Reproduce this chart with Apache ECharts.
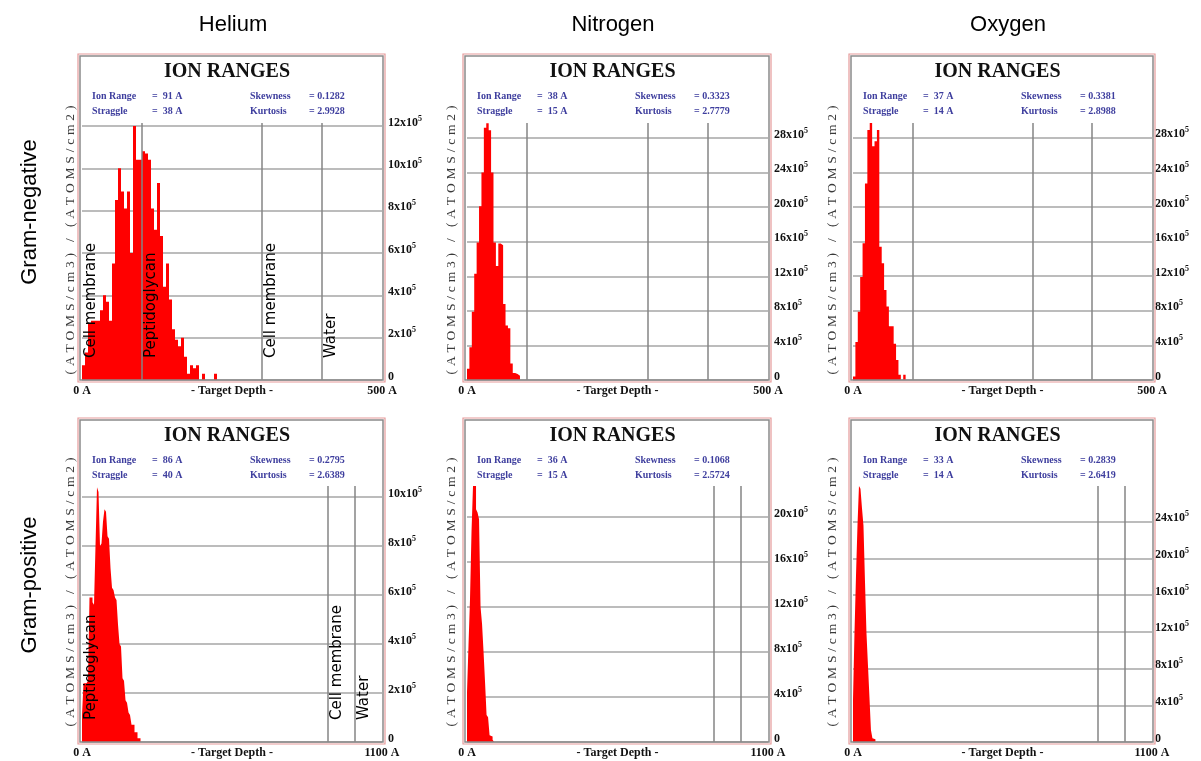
<!DOCTYPE html>
<html>
<head>
<meta charset="utf-8">
<title>Ion ranges</title>
<script src="https://cdn.jsdelivr.net/npm/echarts@6/dist/echarts.min.js"></script>
<style>
  html, body { margin: 0; padding: 0; background: #fff; }
  #chart { width: 1201px; height: 761px; }
</style>
</head>
<body>
<div id="chart"></div>
<script>
// headings
const ions = ['Helium', 'Nitrogen', 'Oxygen'];
const walls = ['Gram-negative', 'Gram-positive'];

// SRIM summary, panels row by row (He, N, O)
const ionRange = ['91 A', '38 A', '37 A', '86 A', '36 A', '33 A'];
const straggle = ['38 A', '15 A', '14 A', '40 A', '15 A', '14 A'];
const skewness = ['0.1282', '0.3323', '0.3381', '0.2795', '0.1068', '0.2839'];
const kurtosis = ['2.9928', '2.7779', '2.8988', '2.6389', '2.5724', '2.6419'];

// target depth (A), bin width (A), y top and tick step (x10^5)
const depthMax = [500, 500, 500, 1100, 1100, 1100];
const binWidth = [5, 4, 4, 5.5, 5.5, 5.5];
const yMax = [12.14, 29.74, 29.7, 10.45, 22.76, 27.9];
const yStep = [2, 4, 4, 2, 4, 4];

// ion range histograms, (atoms/cm3)/(atoms/cm2) in units of 10^5
const heNeg = [0.7, 1.3, 2.7, 2.8, 2.8, 2.8, 3.3, 4.0, 3.7, 2.8, 5.5, 8.5, 10.0, 8.9, 8.1, 8.9,
  6.0, 12.0, 10.4, 10.4, 10.8, 10.7, 10.4, 8.1, 7.1, 9.3, 6.8, 4.4, 5.5, 3.8, 2.4, 1.9, 1.6,
  2.0, 1.1, 0.3, 0.7, 0.55, 0.7, 0, 0.3, 0, 0, 0, 0.3];
const nNeg = [1.3, 3.8, 7.9, 12.3, 15.9, 20.1, 24.0, 29.2, 29.7, 28.9, 24.0, 15.9, 13.2, 15.8,
  15.6, 8.8, 6.3, 6.0, 1.9, 0.8, 0.7, 0.5];
const oNeg = [0.4, 4.4, 7.9, 11.9, 15.8, 22.7, 28.9, 29.7, 27.0, 27.6, 28.9, 15.4, 13.5, 10.4,
  8.5, 6.2, 6.2, 4.2, 2.3, 0.6, 0, 0.6];
const hePos = [1.1, 2.4, 2.4, 2.4, 2.5, 5.9, 5.9, 5.7, 5.6, 8.0, 10.4, 10.2, 8.0, 8.1, 9.0, 9.5,
  9.4, 8.4, 8.3, 7.1, 6.3, 6.2, 5.9, 5.8, 4.8, 4.0, 3.9, 2.6, 2.5, 1.7, 1.6, 1.2, 1.1, 0.7, 0.7,
  0.4, 0.4, 0.15, 0.15];
const nPos = [4.4, 8.6, 12.7, 18.7, 22.8, 22.8, 20.7, 20.4, 19.8, 12.0, 10.5, 8.0, 5.3, 2.4,
  2.2, 0.6, 0.5, 0.2];
const oPos = [4.6, 11.9, 18.1, 23.6, 27.9, 27.6, 25.5, 23.6, 17.6, 11.9, 8.4, 4.9, 1.3, 0.4, 0.3];
const hists = [heNeg, nNeg, oNeg, hePos, nPos, oPos];

// cell wall layers: start depth (A) and name
const negLayerDepth = [0, 100, 300, 400];
const negLayerName = ['Cell membrane', 'Peptidoglycan', 'Cell membrane', 'Water'];
const posLayerDepth = [0, 900, 1000];
const posLayerName = ['Peptidoglycan', 'Cell membrane', 'Water'];

// page layout
const colLeft = [82, 467, 853];
const colRight = [382, 768, 1152];
const labelGap = [6, 6, 3];
const rowTop = [123, 486];
const rowBottom = [380, 742];
const frameTop = [54, 418];
const titleX = [233, 613, 1008];
const unitX = [70, 451, 832];
const unitY = [240, 592];
const wallY = [212, 585];

const serif = '"Liberation Serif", "Times New Roman", serif';
const unitText = '(ATOMS/cm3) / (ATOMS/cm2)'.split('').join('\u2009\u200a');

const grids = [], xAxes = [], yAxes = [], series = [], graphics = [];

for (let k = 0; k < 6; k++) {
  const r = Math.floor(k / 3), c = k % 3;
  const pl = colLeft[c], pr = colRight[c];
  const bw = binWidth[k];
  const depths = r === 0 ? negLayerDepth : posLayerDepth;
  const names = r === 0 ? negLayerName : posLayerName;

  grids.push({ left: pl, top: rowTop[r], width: pr - pl, height: rowBottom[r] - rowTop[r], outerBoundsMode: 'none' });

  xAxes.push({
    type: 'value', gridIndex: k, min: 0, max: depthMax[k], interval: depthMax[k],
    axisLine: { show: false }, axisTick: { show: false }, splitLine: { show: false },
    axisLabel: { margin: 5, formatter: v => v + ' A', color: '#111', fontFamily: serif, fontWeight: 'bold', fontSize: 12 },
    name: '- Target Depth -', nameLocation: 'middle', nameGap: 5, nameMoveOverlap: false,
    nameTextStyle: { color: '#111', fontFamily: serif, fontWeight: 'bold', fontSize: 12, verticalAlign: 'top' }
  });

  yAxes.push({
    type: 'value', gridIndex: k, position: 'right', min: 0, max: yMax[k], interval: yStep[k],
    axisLine: { show: false }, axisTick: { show: false },
    splitLine: { show: true, showMaxLine: false, lineStyle: { color: '#a6a6a6', width: 1.5 } },
    axisLabel: {
      margin: labelGap[c], showMaxLabel: false, padding: [0, 0, 7, 0],
      formatter: v => v === 0 ? '{b|0}' : '{b|' + v + 'x10}{s|5}',
      rich: {
        b: { fontFamily: serif, fontWeight: 'bold', fontSize: 12, color: '#111', lineHeight: 16 },
        s: { fontFamily: serif, fontWeight: 'bold', fontSize: 8, color: '#111', lineHeight: 8, verticalAlign: 'top' }
      }
    }
  });

  const data = hist => hist.map((h, i) => [i * bw, h]).concat([[hist.length * bw, 0]]);

  series.push({
    type: 'line', xAxisIndex: k, yAxisIndex: k, step: 'end', data: data(hists[k]),
    symbol: 'none', lineStyle: { width: 0 }, areaStyle: { color: '#ff0000', opacity: 1 },
    silent: true, animation: false,
    markLine: {
      symbol: 'none', silent: true, animation: false,
      lineStyle: { color: '#858585', width: 1.5, type: 'solid' },
      label: {
        show: c === 0, position: 'insideStartBottom', formatter: p => p.name,
        fontFamily: '"DejaVu Sans", sans-serif', fontSize: 15, color: '#000',
        distance: 2, padding: [0, 0, 0, 20]
      },
      data: depths.map((d, i) => ({
        xAxis: d, name: names[i],
        lineStyle: { color: d === 0 ? 'rgba(0,0,0,0)' : '#858585' }
      }))
    }
  });

  // frame, heading, stats
  const ft = frameTop[r], fb = rowBottom[r];
  graphics.push({ type: 'rect', shape: { x: pl - 4, y: ft, width: pr - pl + 7, height: fb + 2 - ft },
    style: { fill: 'none', stroke: '#e59a9a', lineWidth: 1.2 }, z: 10 });
  graphics.push({ type: 'rect', shape: { x: pl - 2, y: ft + 2, width: pr - pl + 3, height: fb - ft - 2 },
    style: { fill: 'none', stroke: '#8a8a8a', lineWidth: 1.5 }, z: 10 });

  const txt = (text, x, y, font, fill, align) => graphics.push({
    type: 'text', x: x, y: y, z: 11,
    style: { text: text, font: font, fill: fill, textAlign: align || 'left', align: align || 'left',
      textVerticalAlign: 'middle', verticalAlign: 'middle' }
  });
  const statFont = 'bold 10px ' + serif;
  const blue = '#3e3e9e';
  txt('ION RANGES', (pl + pr) / 2 - 5, ft + 18, 'bold 20px ' + serif, '#111', 'center');
  txt('Ion Range', pl + 10, ft + 42, statFont, blue);
  txt('=  ' + ionRange[k], pl + 70, ft + 42, statFont, blue);
  txt('Straggle', pl + 10, ft + 57.5, statFont, blue);
  txt('=  ' + straggle[k], pl + 70, ft + 57.5, statFont, blue);
  txt('Skewness', pl + 168, ft + 42, statFont, blue);
  txt('= ' + skewness[k], pl + 227, ft + 42, statFont, blue);
  txt('Kurtosis', pl + 168, ft + 57.5, statFont, blue);
  txt('= ' + kurtosis[k], pl + 227, ft + 57.5, statFont, blue);

  graphics.push({
    type: 'text', x: unitX[c], y: unitY[r], rotation: Math.PI / 2, z: 11,
    style: { text: unitText, font: '13.5px ' + serif, fill: '#3a3a3a', textAlign: 'center', align: 'center',
      textVerticalAlign: 'middle', verticalAlign: 'middle' }
  });
}

ions.forEach((name, c) => graphics.push({
  type: 'text', x: titleX[c], y: 25,
  style: { text: name, font: '22px "Liberation Sans", Arial, sans-serif', fill: '#000',
    textAlign: 'center', align: 'center', textVerticalAlign: 'middle', verticalAlign: 'middle' }
}));
walls.forEach((name, r) => graphics.push({
  type: 'text', x: 30, y: wallY[r], rotation: Math.PI / 2,
  style: { text: name, font: '22px "Liberation Sans", Arial, sans-serif', fill: '#000',
    textAlign: 'center', align: 'center', textVerticalAlign: 'middle', verticalAlign: 'middle' }
}));

const chart = echarts.init(document.getElementById('chart'));
chart.setOption({
  backgroundColor: '#fff',
  animation: false,
  grid: grids,
  xAxis: xAxes,
  yAxis: yAxes,
  series: series,
  graphic: graphics
});
</script>
</body>
</html>
